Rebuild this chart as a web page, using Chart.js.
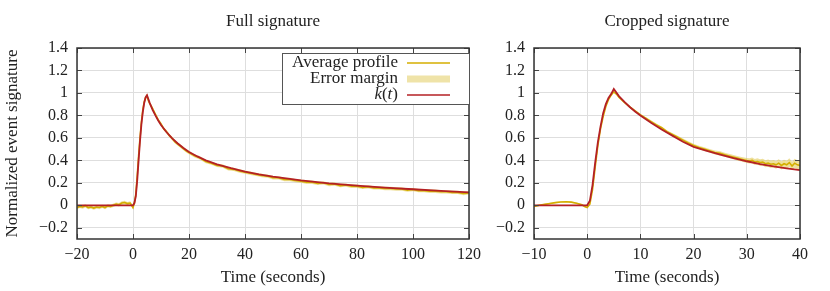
<!DOCTYPE html>
<html>
<head>
<meta charset="utf-8">
<script src="https://cdn.jsdelivr.net/npm/chart.js@4.4.0/dist/chart.umd.min.js"></script>
<style>
  body { margin: 0; background: #fff; }
  .wrap { position: relative; width: 830px; height: 291px; }
  #leftBox { position: absolute; left: 0; top: 0; width: 482px; height: 291px; }
  #rightBox { position: absolute; left: 480px; top: 0; width: 350px; height: 291px; }
</style>
</head>
<body>
<div class="wrap">
  <div id="leftBox"><canvas id="leftChart"></canvas></div>
  <div id="rightBox"><canvas id="rightChart"></canvas></div>
</div>
<script>
// ---- data ----
// full signature: averaged profile
const fullAvgT = [-20,-19,-18,-17,-16,-15,-14,-13,-12,-11,-10,-9,-8,-7,-6,-5,-4,-3,-2,-1,
  -0.5,0,0.5,1,1.5,2,2.5,3,3.5,4,4.5,5,5.5,6,
  7,8,9,10,11,12,13,14,15,16,17,18,19,20,
  22,24,26,28,30,32,34,36,38,40,42,44,46,48,50,52,54,56,58,60,
  62,64,66,68,70,72,74,76,78,80,82,84,86,88,90,92,94,96,98,100,
  102,104,106,108,110,112,114,116,118,120];
const fullAvg = [-0.02,-0.01,-0.015,-0.005,-0.02,-0.015,-0.025,-0.015,-0.02,-0.01,-0.02,-0.005,-0.01,0.0,0.01,0.005,0.02,0.025,0.015,0.02,
  0.0,-0.02,0.02,0.1,0.26,0.44,0.6,0.74,0.85,0.92,0.96,0.975,0.93,0.905,
  0.86,0.81,0.76,0.725,0.68,0.655,0.62,0.595,0.565,0.545,0.525,0.505,0.485,0.47,
  0.44,0.42,0.39,0.375,0.355,0.35,0.325,0.32,0.305,0.295,0.285,0.275,0.265,0.26,0.245,0.245,0.23,0.23,0.22,0.215,
  0.205,0.205,0.195,0.2,0.185,0.19,0.175,0.18,0.17,0.17,0.16,0.165,0.155,0.155,0.15,0.15,0.145,0.145,0.135,0.14,
  0.13,0.13,0.125,0.125,0.12,0.12,0.115,0.115,0.105,0.11];
const fullMargin = 0.015;
// full signature: fitted k(t)
const fullKT = [-20,-10,0,0.5,1,1.5,2,2.5,3,3.5,4,4.5,5,6,7,8,9,10,12,14,16,18,20,23,26,30,35,40,45,50,60,70,80,90,100,110,120];
const fullK = [0,0,0,0.02,0.08,0.22,0.4,0.57,0.72,0.83,0.91,0.96,0.98,0.91,0.85,0.8,0.755,0.715,0.65,0.595,0.55,0.51,0.475,0.435,0.4,0.365,0.33,0.3,0.275,0.255,0.222,0.195,0.175,0.158,0.143,0.128,0.115];

// cropped signature: averaged profile
const cropAvgT = [-10,-9,-8,-7,-6,-5,-4,-3,-2,-1,
  -0.5,0,0.5,1,1.5,2,2.5,3,3.5,4,4.5,5,5.5,6,
  7,8,9,10,11,12,13,14,15,16,17,18,19,20,21,22,23,24,25,26,27,28,29,30,
  30.5,31,31.5,32,32.5,33,33.5,34,34.5,35,35.5,36,36.5,37,37.5,38,38.5,39,39.5,40];
const cropAvg = [-0.01,0.0,0.008,0.016,0.024,0.03,0.032,0.028,0.018,0.005,
  -0.01,-0.02,0.01,0.14,0.34,0.53,0.68,0.79,0.88,0.94,0.98,1.01,0.99,0.96,
  0.915,0.875,0.84,0.805,0.775,0.745,0.715,0.69,0.655,0.63,0.605,0.58,0.555,0.533,0.515,0.5,0.485,0.47,0.462,0.448,0.435,0.422,0.41,0.398,
  0.395,0.4,0.385,0.39,0.38,0.385,0.37,0.375,0.365,0.37,0.36,0.375,0.355,0.37,0.36,0.38,0.35,0.375,0.36,0.355];
const cropMargin = [0.006,0.006,0.006,0.006,0.006,0.006,0.006,0.006,0.006,0.006,
  0.006,0.006,0.006,0.006,0.006,0.006,0.006,0.006,0.006,0.006,0.006,0.006,0.006,0.006,
  0.01,0.01,0.01,0.01,0.011,0.011,0.012,0.012,0.012,0.013,0.013,0.014,0.014,0.015,0.015,0.016,0.016,0.017,0.018,0.018,0.019,0.02,0.02,0.022,
  0.024,0.025,0.026,0.028,0.03,0.03,0.032,0.032,0.034,0.034,0.035,0.035,0.036,0.036,0.037,0.038,0.038,0.04,0.04,0.04];
// cropped signature: fitted k(t)
const cropKT = [-10,-5,0,0.5,1,1.5,2,2.5,3,3.5,4,4.5,5,6,7,8,9,10,12,14,16,18,20,22.5,25,27.5,30,32.5,35,37.5,40];
const cropK = [0,0,0,0.04,0.18,0.38,0.56,0.7,0.82,0.9,0.955,0.99,1.035,0.97,0.92,0.875,0.835,0.8,0.735,0.675,0.62,0.565,0.52,0.485,0.452,0.42,0.392,0.367,0.347,0.329,0.313];

const yTicks = [-0.2,0,0.2,0.4,0.6,0.8,1,1.2,1.4];
const fullXTicks = [-20,0,20,40,60,80,100,120];
const cropXTicks = [-10,0,10,20,30,40];

const legendLabels = ['Average profile', 'Error margin', 'k(t)'];

const FONT = '"Liberation Serif", "DejaVu Serif", serif';
const TXT = '#222';
const YELLOW = '#d4ae00';
const BAND = 'rgba(226,204,90,0.6)';
const BAND_KEY = '#efe3a8';
const RED = '#b42025';

function fmt(v) {
  return String(+v.toFixed(1)).replace('-', '\u2212');
}

function pts(ts, vs, off) {
  return ts.map((t, i) => ({ x: t, y: vs[i] + (off ? off(i) : 0) }));
}

// frame, inward tick marks, title and (optionally) the legend
const decor = {
  id: 'decor',
  afterDraw(chart, args, opts) {
    const { ctx, chartArea: a, scales } = chart;
    ctx.save();
    ctx.strokeStyle = '#444';
    ctx.lineWidth = 1;
    ctx.beginPath();
    scales.y.ticks.forEach(t => {
      const y = Math.round(scales.y.getPixelForValue(t.value)) + 0.5;
      ctx.moveTo(a.left, y); ctx.lineTo(a.left + 5, y);
      ctx.moveTo(a.right - 5, y); ctx.lineTo(a.right, y);
    });
    scales.x.ticks.forEach(t => {
      const x = Math.round(scales.x.getPixelForValue(t.value)) + 0.5;
      ctx.moveTo(x, a.bottom); ctx.lineTo(x, a.bottom - 5);
      ctx.moveTo(x, a.top); ctx.lineTo(x, a.top + 5);
    });
    ctx.stroke();
    ctx.strokeStyle = '#333';
    ctx.lineWidth = 1.5;
    ctx.strokeRect(a.left, a.top, a.right - a.left, a.bottom - a.top);

    ctx.fillStyle = TXT;
    ctx.font = '17px ' + FONT;
    ctx.textAlign = 'center';
    ctx.textBaseline = 'middle';
    ctx.fillText(opts.title, (a.left + a.right) / 2, 22);

    if (opts.legend) {
      const bx = 282, by = 53, bw = a.right - 282, bh = 51;
      ctx.fillStyle = '#fff';
      ctx.fillRect(bx, by, bw, bh);
      ctx.strokeStyle = '#555';
      ctx.lineWidth = 1;
      ctx.strokeRect(bx + 0.5, by + 0.5, bw, bh);
      const tx = 398, sx0 = 407, sx1 = 450;
      const rows = [63, 79, 95];
      ctx.textAlign = 'right';
      ctx.fillStyle = TXT;
      ctx.fillText(legendLabels[0], tx, rows[0]);
      ctx.fillText(legendLabels[1], tx, rows[1]);
      // k(t) with italic k and t
      const ital = 'italic 17px ' + FONT, up = '17px ' + FONT;
      const parts = [[')', up], ['t', ital], ['(', up], ['k', ital]];
      let x = tx;
      parts.forEach(([s, f]) => { ctx.font = f; ctx.fillText(s, x, rows[2]); x -= ctx.measureText(s).width; });
      ctx.lineWidth = 1.6;
      ctx.strokeStyle = YELLOW;
      ctx.beginPath(); ctx.moveTo(sx0, rows[0]); ctx.lineTo(sx1, rows[0]); ctx.stroke();
      ctx.fillStyle = BAND_KEY;
      ctx.fillRect(sx0, rows[1] - 3.5, sx1 - sx0, 7);
      ctx.strokeStyle = RED;
      ctx.beginPath(); ctx.moveTo(sx0, rows[2]); ctx.lineTo(sx1, rows[2]); ctx.stroke();
    }
    ctx.restore();
  }
};

function makeChart(id, cfg) {
  const margin = i => (Array.isArray(cfg.margin) ? cfg.margin[i] : cfg.margin);
  return new Chart(document.getElementById(id), {
    type: 'line',
    data: {
      datasets: [
        { label: 'k(t)', data: pts(cfg.kT, cfg.k), borderColor: RED, borderWidth: 1.8, pointRadius: 0, tension: 0, order: 0 },
        { label: 'Average profile', data: pts(cfg.avgT, cfg.avg), borderColor: YELLOW, borderWidth: 1.6, pointRadius: 0, tension: 0, order: 1 },
        { label: 'upper', data: pts(cfg.avgT, cfg.avg, i => margin(i)), borderWidth: 0, pointRadius: 0, backgroundColor: BAND, fill: '+1', order: 2 },
        { label: 'lower', data: pts(cfg.avgT, cfg.avg, i => -margin(i)), borderWidth: 0, pointRadius: 0, fill: false, order: 3 }
      ]
    },
    options: {
      responsive: true,
      maintainAspectRatio: false,
      animation: false,
      events: [],
      layout: { padding: { top: 48, right: cfg.padRight, left: 0, bottom: 0 } },
      plugins: {
        legend: { display: false },
        tooltip: { enabled: false },
        decor: { title: cfg.title, legend: cfg.legend }
      },
      scales: {
        x: {
          type: 'linear',
          min: cfg.xTicks[0], max: cfg.xTicks[cfg.xTicks.length - 1],
          afterBuildTicks: s => { s.ticks = cfg.xTicks.map(v => ({ value: v })); },
          afterFit: s => { s.height = 52; s.paddingLeft = 0; s.paddingRight = 0; },
          ticks: { callback: fmt, color: TXT, font: { family: FONT, size: 16 }, padding: 6, maxRotation: 0 },
          grid: { color: '#dedede', drawTicks: false },
          border: { display: false },
          title: { display: true, text: 'Time (seconds)', color: TXT, font: { family: FONT, size: 17 }, padding: { top: 0, bottom: 3 } }
        },
        y: {
          min: -0.3, max: 1.4,
          afterBuildTicks: s => { s.ticks = yTicks.map(v => ({ value: v })); },
          afterFit: s => { s.width = cfg.yWidth; s.paddingTop = 0; s.paddingBottom = 0; },
          ticks: { callback: fmt, color: TXT, font: { family: FONT, size: 16 }, padding: 9 },
          grid: { color: '#dedede', drawTicks: false },
          border: { display: false },
          title: { display: cfg.yTitle, text: 'Normalized event signature', color: TXT, font: { family: FONT, size: 17 }, padding: { top: 2, bottom: 0 } }
        }
      }
    },
    plugins: [decor]
  });
}

makeChart('leftChart', {
  avgT: fullAvgT, avg: fullAvg, margin: fullMargin, kT: fullKT, k: fullK,
  xTicks: fullXTicks, title: 'Full signature', legend: true, yTitle: true, yWidth: 77, padRight: 13
});
makeChart('rightChart', {
  avgT: cropAvgT, avg: cropAvg, margin: cropMargin, kT: cropKT, k: cropK,
  xTicks: cropXTicks, title: 'Cropped signature', legend: false, yTitle: false, yWidth: 54, padRight: 30
});
</script>
</body>
</html>
